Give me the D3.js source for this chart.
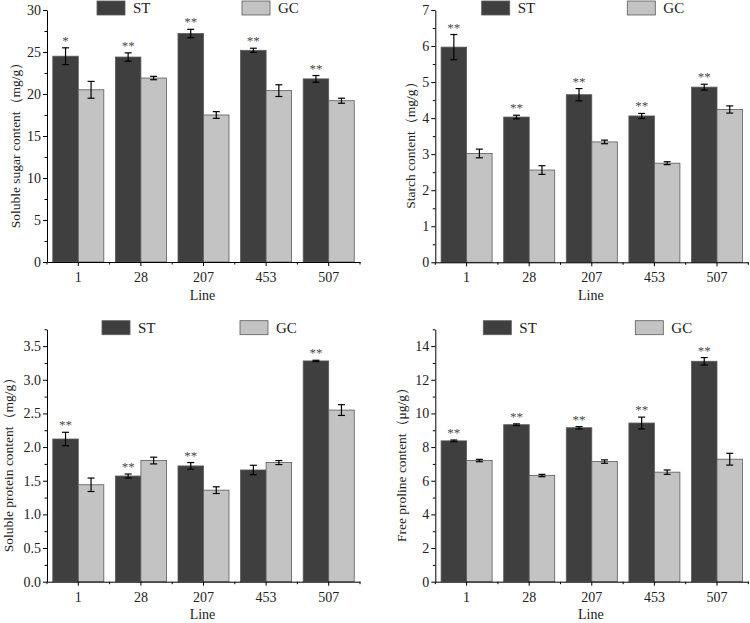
<!DOCTYPE html>
<html><head><meta charset="utf-8">
<script src="https://cdn.jsdelivr.net/npm/d3@7"></script>
<style>body{margin:0;background:#fff}svg{display:block}text{font-family:"Liberation Serif","Times New Roman",serif;}</style>
</head><body>
<svg id="c" width="750" height="623"></svg>
<script>
const lines = ["1","28","207","453","507"];
const seriesNames = ["ST","GC"];

const sugarST = [24.5,24.4,27.2,25.2,21.8];
const sugarSTErr = [1.0,0.5,0.5,0.25,0.4];
const sugarGC = [20.5,21.9,17.5,20.4,19.2];
const sugarGCErr = [1.0,0.2,0.4,0.7,0.3];
const sugarSig = ["*","**","**","**","**"];

const starchST = [5.97,4.03,4.65,4.06,4.86];
const starchSTErr = [0.35,0.05,0.17,0.07,0.08];
const starchGC = [3.02,2.56,3.34,2.75,4.24];
const starchGCErr = [0.12,0.12,0.05,0.04,0.1];
const starchSig = ["**","**","**","**","**"];

const proteinST = [2.12,1.57,1.72,1.66,3.28];
const proteinSTErr = [0.1,0.03,0.05,0.07,0.01];
const proteinGC = [1.44,1.80,1.36,1.77,2.55];
const proteinGCErr = [0.1,0.05,0.05,0.03,0.08];
const proteinSig = ["**","**","**","","**"];

const prolineST = [8.37,9.33,9.15,9.43,13.1];
const prolineSTErr = [0.05,0.05,0.07,0.35,0.22];
const prolineGC = [7.2,6.31,7.14,6.51,7.28];
const prolineGCErr = [0.07,0.07,0.1,0.13,0.35];
const prolineSig = ["**","**","**","**","**"];

const yTitles = ["Soluble sugar content（mg/g）","Starch content（mg/g）","Soluble protein content（mg/g）","Free proline content（μg/g）"];
const yMax = [30,7,3.75,15];
const yStep = [5,1,0.5,2];
const yFmt = [d3.format("d"),d3.format("d"),d3.format(".1f"),d3.format("d")];

const colors = {ST:"#3f3f3f", GC:"#c3c3c3"};

const panels = [
  {x0:47, y0:262, yTop:10, st:sugarST, stE:sugarSTErr, gc:sugarGC, gcE:sugarGCErr, sig:sugarSig, titleDx:-32, legST:50, legGC:195, legY:1},
  {x0:435.3, y0:262.3, yTop:10, st:starchST, stE:starchSTErr, gc:starchGC, gcE:starchGCErr, sig:starchSig, titleDx:-25, legST:46.4, legGC:192, legY:1},
  {x0:47, y0:581.7, yTop:329.3, st:proteinST, stE:proteinSTErr, gc:proteinGC, gcE:proteinGCErr, sig:proteinSig, titleDx:-39, legST:55, legGC:193, legY:320.7},
  {x0:435.3, y0:581.7, yTop:329.3, st:prolineST, stE:prolineSTErr, gc:prolineGC, gcE:prolineGCErr, sig:prolineSig, titleDx:-33.6, legST:48, legGC:200, legY:320.7}
];
const W = 313;

const svg = d3.select("#c");

panels.forEach((p,i)=>{
  const g = svg.append("g");
  const x = d3.scaleBand().domain(lines).range([p.x0, p.x0+W]).paddingInner(0.185).paddingOuter(0.0925);
  const xs = d3.scaleBand().domain(seriesNames).range([0, x.bandwidth()]);
  const y = d3.scaleLinear().domain([0, yMax[i]]).range([p.y0, p.yTop]);

  const data = [];
  lines.forEach((l,k)=>{
    data.push({line:l, s:"ST", v:p.st[k], e:p.stE[k], sig:p.sig[k]});
    data.push({line:l, s:"GC", v:p.gc[k], e:p.gcE[k], sig:""});
  });

  g.selectAll("rect.bar").data(data).enter().append("rect")
    .attr("x", d=>x(d.line)+xs(d.s))
    .attr("y", d=>y(d.v))
    .attr("width", xs.bandwidth())
    .attr("height", d=>p.y0 - y(d.v))
    .attr("fill", d=>colors[d.s])
    .attr("stroke", "#5a5a5a").attr("stroke-width", 0.8);

  const cx = d=>x(d.line)+xs(d.s)+xs.bandwidth()/2;
  const eb = g.selectAll("g.eb").data(data).enter().append("g");
  eb.append("line")
    .attr("x1", cx).attr("x2", cx)
    .attr("y1", d=>y(d.v+d.e)).attr("y2", d=>y(d.v-d.e))
    .attr("stroke","#000").attr("stroke-width",1.2);
  [1,-1].forEach(sg=>{
    eb.append("line")
      .attr("x1", d=>cx(d)-3.5).attr("x2", d=>cx(d)+3.5)
      .attr("y1", d=>y(d.v+sg*d.e)).attr("y2", d=>y(d.v+sg*d.e))
      .attr("stroke","#000").attr("stroke-width",1.2);
  });

  g.selectAll("text.sig").data(data.filter(d=>d.sig)).enter().append("text")
    .attr("x", cx)
    .attr("y", d=>y(d.v+d.e)-3)
    .attr("text-anchor","middle").attr("font-size",13).attr("fill","#4a4a4a")
    .text(d=>d.sig);

  const majors = d3.range(0, yMax[i]+1e-9, yStep[i]);
  const minors = d3.range(yStep[i]/2, yMax[i]+1e-9, yStep[i]).filter(v=>!majors.some(m=>Math.abs(m-v)<1e-9));
  const ya = g.append("g").attr("transform",`translate(${p.x0},0)`)
    .call(d3.axisLeft(y).tickValues(majors).tickFormat(yFmt[i]).tickSize(4).tickSizeOuter(0).tickPadding(2));
  ya.selectAll("text").attr("font-size",14).attr("fill","#222");
  ya.selectAll("line").attr("stroke","#000");
  ya.select(".domain").attr("stroke","#000");
  const ym = g.append("g").attr("transform",`translate(${p.x0},0)`)
    .call(d3.axisLeft(y).tickValues(minors).tickFormat("").tickSize(2.5).tickSizeOuter(0));
  ym.select(".domain").remove();
  ym.selectAll("line").attr("stroke","#000");

  const xa = g.append("g").attr("transform",`translate(0,${p.y0})`)
    .call(d3.axisBottom(x).tickSize(4).tickSizeOuter(0).tickPadding(6));
  xa.selectAll("text").attr("font-size",14).attr("fill","#222");
  xa.selectAll("line").attr("stroke","#000");
  xa.select(".domain").attr("stroke","#000");
  const bounds = d3.range(0, lines.length+1).map(k=>p.x0 + k*x.step());
  g.selectAll("line.xm").data(bounds).enter().append("line")
    .attr("x1",d=>d).attr("x2",d=>d).attr("y1",p.y0).attr("y2",p.y0+2.5)
    .attr("stroke","#000");

  g.append("text").attr("x", p.x0+W/2 - 1).attr("y", p.y0+37.5)
    .attr("text-anchor","middle").attr("font-size",14).attr("fill","#222").text("Line");

  g.append("text")
    .attr("transform",`translate(${p.x0+p.titleDx},${(p.y0+p.yTop)/2+6}) rotate(-90)`)
    .attr("text-anchor","middle").attr("dominant-baseline","central")
    .attr("font-size",13.5).attr("fill","#222").text(yTitles[i]);

  [["ST",p.legST],["GC",p.legGC]].forEach(([s,dx])=>{
    g.append("rect").attr("x",p.x0+dx).attr("y",p.legY).attr("width",28).attr("height",14)
      .attr("fill",colors[s]).attr("stroke","#5a5a5a").attr("stroke-width",0.8);
    g.append("text").attr("x",p.x0+dx+36).attr("y",p.legY+12).attr("font-size",15).attr("fill","#222").text(s);
  });
});
</script>
</body></html>
